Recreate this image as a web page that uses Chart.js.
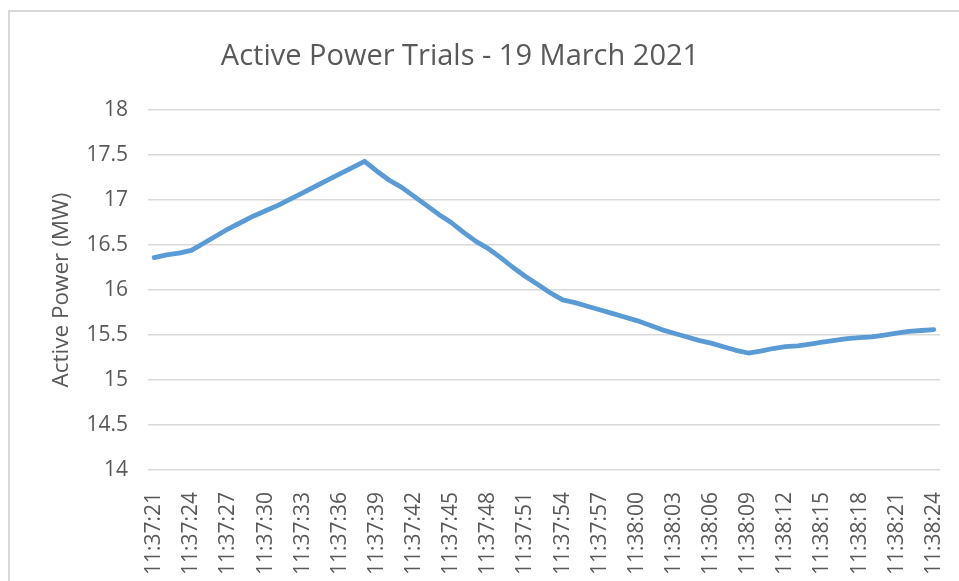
<!DOCTYPE html>
<html>
<head>
<meta charset="utf-8">
<title>Active Power Trials</title>
<script src="https://cdn.jsdelivr.net/npm/chart.js@4.4.1/dist/chart.umd.min.js"></script>
<style>
  html, body { margin: 0; padding: 0; background: #fff; }
  #wrap { position: relative; width: 959px; height: 581px; overflow: hidden; }
  #frame { position: absolute; left: 8px; top: 10px; width: 1000px; height: 700px;
           border-left: 2px solid #d9d9d9; border-top: 2px solid #d9d9d9; }
  canvas { position: absolute; left: 0; top: 0; }
</style>
</head>
<body>
<div id="wrap">
  <div id="frame"></div>
  <canvas id="chart" width="959" height="581"></canvas>
</div>
<script>
// Samples taken once per second, 11:37:21 - 11:38:24
const times = [
    '11:37:21', '11:37:22', '11:37:23', '11:37:24', '11:37:25', '11:37:26', '11:37:27', '11:37:28',
    '11:37:29', '11:37:30', '11:37:31', '11:37:32', '11:37:33', '11:37:34', '11:37:35', '11:37:36',
    '11:37:37', '11:37:38', '11:37:39', '11:37:40', '11:37:41', '11:37:42', '11:37:43', '11:37:44',
    '11:37:45', '11:37:46', '11:37:47', '11:37:48', '11:37:49', '11:37:50', '11:37:51', '11:37:52',
    '11:37:53', '11:37:54', '11:37:55', '11:37:56', '11:37:57', '11:37:58', '11:37:59', '11:38:00',
    '11:38:01', '11:38:02', '11:38:03', '11:38:04', '11:38:05', '11:38:06', '11:38:07', '11:38:08',
    '11:38:09', '11:38:10', '11:38:11', '11:38:12', '11:38:13', '11:38:14', '11:38:15', '11:38:16',
    '11:38:17', '11:38:18', '11:38:19', '11:38:20', '11:38:21', '11:38:22', '11:38:23', '11:38:24'
];

// Active power in MW
const activePower = [
    16.36, 16.39, 16.41, 16.44, 16.52, 16.60, 16.68, 16.75,
    16.82, 16.88, 16.94, 17.01, 17.08, 17.15, 17.22, 17.29,
    17.36, 17.43, 17.32, 17.22, 17.14, 17.04, 16.94, 16.84,
    16.75, 16.64, 16.54, 16.46, 16.36, 16.25, 16.15, 16.06,
    15.97, 15.89, 15.86, 15.82, 15.78, 15.74, 15.70, 15.66,
    15.61, 15.56, 15.52, 15.48, 15.44, 15.41, 15.37, 15.33,
    15.30, 15.32, 15.35, 15.37, 15.38, 15.40, 15.42, 15.44,
    15.46, 15.47, 15.48, 15.50, 15.52, 15.54, 15.55, 15.56
];

// y-axis tick labels, 14 to 18 in half-megawatt steps
const powerTicks = ['14', '14.5', '15', '15.5', '16', '16.5', '17', '17.5', '18'];

const chartTitle = 'Active Power Trials - 19 March 2021';
const labelEvery = 3; // only every third timestamp is printed on the axis

const FONT = "'Open Sans', 'Noto Sans', sans-serif";
const TEXT = '#595959';
const GRID = '#d9d9d9';

// Title is centred on the whole chart frame, not on the plot, so draw it by hand
const frameTitle = {
    id: 'frameTitle',
    afterDraw(chart) {
        const c = chart.ctx;
        c.save();
        c.font = '29px ' + FONT;
        c.fillStyle = TEXT;
        c.textAlign = 'center';
        c.textBaseline = 'middle';
        c.fillText(chartTitle, 460, 57);
        c.restore();
    }
};

const ctx = document.getElementById('chart').getContext('2d');

// eslint-disable-next-line no-undef
const chart = new Chart(ctx, {
    type: 'line',
    data: {
        labels: times,
        datasets: [{
            label: 'Active Power',
            data: activePower,
            borderColor: '#5b9bd5',
            borderWidth: 4.8,
            borderCapStyle: 'round',
            borderJoinStyle: 'round',
            pointRadius: 0,
            tension: 0,
            fill: false
        }]
    },
    plugins: [frameTitle],
    options: {
        responsive: false,
        animation: false,
        layout: { padding: { left: 48, right: 19, top: 110, bottom: 0 } },
        plugins: {
            legend: { display: false },
            tooltip: { enabled: false },
            title: { display: false }
        },
        scales: {
            x: {
                offset: true,
                grid: { display: false },
                border: { display: false },
                ticks: {
                    autoSkip: false,
                    maxRotation: 90,
                    minRotation: 90,
                    padding: 14,
                    color: TEXT,
                    font: { family: FONT, size: 21 },
                    callback: function (value, index) {
                        return index % labelEvery === 0 ? times[index] : null;
                    }
                },
                afterFit: (scale) => {
                    scale.height = 111;
                    // rotated labels need no side room here
                    scale.paddingLeft = 0;
                    scale.paddingRight = 0;
                }
            },
            y: {
                min: 14,
                max: 18,
                grid: { color: GRID, lineWidth: 1.5, drawTicks: false },
                border: { display: false },
                ticks: {
                    stepSize: 0.5,
                    padding: 20,
                    color: TEXT,
                    font: { family: FONT, size: 21 },
                    callback: function (value, index) {
                        return powerTicks[index];
                    }
                },
                title: {
                    display: true,
                    text: 'Active Power (MW)',
                    color: TEXT,
                    font: { family: FONT, size: 22.5, weight: 'normal' },
                    padding: { top: 0, bottom: 6 }
                },
                afterFit: (scale) => { scale.width = 100; }
            }
        }
    }
});
</script>
</body>
</html>
